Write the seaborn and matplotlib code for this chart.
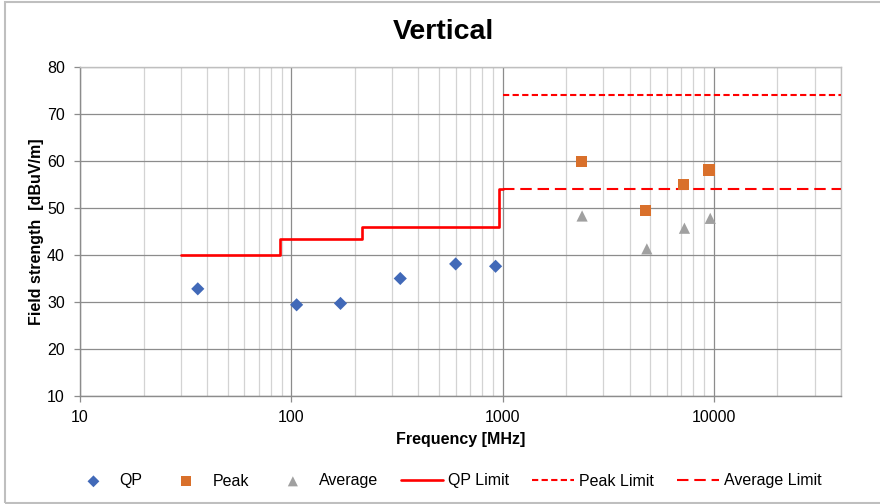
import matplotlib
matplotlib.use("Agg")
import matplotlib.pyplot as plt
import seaborn as sns
from matplotlib.ticker import LogLocator, FixedLocator, NullFormatter, FuncFormatter
from matplotlib.patches import Rectangle

# ---- data ----
qp_freq = [36.1, 106, 171, 328, 600, 927]
qp_val = [32.8, 29.4, 29.7, 35.0, 38.1, 37.6]

peak_freq = [2360, 4760, 7200, 9500]
peak_val = [59.9, 49.4, 55.0, 58.1]

avg_freq = [2380, 4820, 7260, 9620]
avg_val = [48.3, 41.3, 45.7, 47.8]

qp_limit_freq = [30, 88, 216, 960, 1000]
qp_limit_val = [40, 43.5, 46, 54, 54]

peak_limit_freq = [1000, 40000]
peak_limit_val = [74, 74]

avg_limit_freq = [1000, 40000]
avg_limit_val = [54, 54]

x_ticks = [10, 100, 1000, 10000]
y_ticks = [10, 20, 30, 40, 50, 60, 70, 80]

# ---- style ----
sns.set_theme(style="white")
plt.rcParams['font.family'] = ['Liberation Sans', 'DejaVu Sans']
plt.rcParams['text.color'] = 'black'
plt.rcParams['axes.labelcolor'] = 'black'
plt.rcParams['xtick.color'] = 'black'
plt.rcParams['ytick.color'] = 'black'

FS = 11.5

fig = plt.figure(figsize=(8.8, 5.04), dpi=100)
ax = fig.add_axes([80 / 880, 1 - 396 / 504, (841 - 80) / 880, (396 - 67) / 504])

red = "#FF0000"
sns.lineplot(x=qp_limit_freq, y=qp_limit_val, ax=ax, color=red, lw=1.9,
             drawstyle="steps-post", label="QP Limit", estimator=None, zorder=3)
sns.lineplot(x=peak_limit_freq, y=peak_limit_val, ax=ax, color=red, lw=1.5,
             dashes=False, label="Peak Limit", estimator=None, zorder=3)
sns.lineplot(x=avg_limit_freq, y=avg_limit_val, ax=ax, color=red, lw=1.5,
             dashes=False, label="Average Limit", estimator=None, zorder=3)
lines = ax.get_lines()
lines[1].set_dashes((3, 1.6))
lines[2].set_dashes((5.5, 2.8))

sns.scatterplot(x=qp_freq, y=qp_val, ax=ax, marker="D", s=45, color="#4169B8",
                edgecolor="none", label="QP", zorder=4)
sns.scatterplot(x=peak_freq, y=peak_val, ax=ax, marker="s", s=65, color="#D9702B",
                edgecolor="none", label="Peak", zorder=4)
sns.scatterplot(x=avg_freq, y=avg_val, ax=ax, marker="^", s=65, color="#A0A0A0",
                edgecolor="none", label="Average", zorder=4)

ax.set_xscale("log")
ax.set_xlim(10, 40000)
ax.set_ylim(10, 80)
ax.xaxis.set_major_locator(FixedLocator(x_ticks))
ax.xaxis.set_major_formatter(FuncFormatter(lambda v, p: f"{int(v)}"))
ax.xaxis.set_minor_locator(LogLocator(base=10, subs=range(2, 10), numticks=20))
ax.xaxis.set_minor_formatter(NullFormatter())
ax.set_yticks(y_ticks)

ax.grid(which="major", axis="both", color="#8C8C8C", lw=0.9)
ax.grid(which="minor", axis="x", color="#D3D3D3", lw=0.9)
ax.set_axisbelow(True)
for s in ax.spines.values():
    s.set_color("#BFBFBF")
    s.set_linewidth(1.0)
ax.spines["left"].set_color("#8C8C8C")
ax.spines["bottom"].set_color("#8C8C8C")

ax.tick_params(axis="both", which="major", labelsize=FS, labelcolor="black",
               length=4, width=0.9, direction="out", color="#8C8C8C")
ax.tick_params(axis="x", which="minor", length=0)
ax.tick_params(axis="x", which="major", pad=6)
ax.tick_params(axis="y", which="major", pad=7)
ax.tick_params(left=True, bottom=True)

ax.set_xlabel("Frequency [MHz]", fontsize=FS, fontweight="bold", labelpad=5)
ax.set_ylabel("Field strength  [dBuV/m]", fontsize=FS, fontweight="bold", labelpad=2)

fig.text(443 / 880, 1 - 32 / 504, "Vertical", fontsize=20.5, fontweight="bold",
         ha="center", va="center", color="black")

handles, labels = ax.get_legend_handles_labels()
order = ["QP", "Peak", "Average", "QP Limit", "Peak Limit", "Average Limit"]
hmap = dict(zip(labels, handles))
ax.legend([hmap[k] for k in order], order, loc="center", ncol=6,
          bbox_to_anchor=(447 / 880, 1 - 481 / 504), bbox_transform=fig.transFigure,
          frameon=False, fontsize=FS, handlelength=2.63, columnspacing=1.44,
          handletextpad=0.31, markerscale=0.9, borderpad=0, borderaxespad=0)

fig.patches.append(Rectangle((5 / 880, 1 / 504), 1.0, 501 / 504, transform=fig.transFigure,
                             fill=False, edgecolor="#BFBFBF", lw=1.5))

fig.savefig("out.png", dpi=100)
